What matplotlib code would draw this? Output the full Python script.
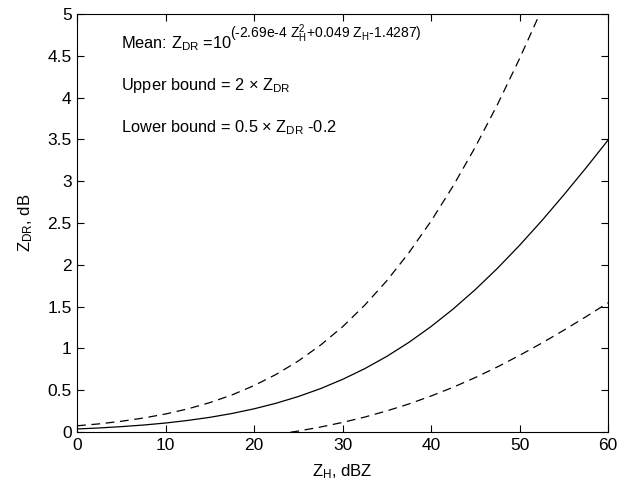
import numpy as np
import matplotlib
matplotlib.use('Agg')
import matplotlib.pyplot as plt

plt.rcParams['font.family'] = ['Liberation Sans', 'DejaVu Sans']
plt.rcParams['mathtext.fontset'] = 'custom'
plt.rcParams['mathtext.rm'] = 'Liberation Sans'
plt.rcParams['mathtext.it'] = 'Liberation Sans'
plt.rcParams['mathtext.bf'] = 'Liberation Sans:bold'

# values
zh = [0, 2.5, 5, 7.5, 10, 12.5, 15, 17.5, 20, 22.5, 25, 27.5, 30, 32.5,
      35, 37.5, 40, 42.5, 45, 47.5, 50, 52.5, 55, 57.5, 60]
zdr_mean = [0.037, 0.049, 0.065, 0.084, 0.108, 0.139, 0.176, 0.222, 0.278,
            0.345, 0.425, 0.519, 0.630, 0.758, 0.905, 1.073, 1.262, 1.472,
            1.704, 1.958, 2.233, 2.526, 2.836, 3.158, 3.491]
zdr_upper = [0.075, 0.098, 0.129, 0.168, 0.216, 0.277, 0.352, 0.444, 0.556,
             0.690, 0.850, 1.039, 1.259, 1.517, 1.810, 2.145, 2.523, 2.944,
             3.409, 3.916, 4.466, 5.053, 5.671, 6.316, 6.982]
zh_low = [22.5, 25, 27.5, 30, 32.5, 35, 37.5, 40, 42.5, 45, 47.5, 50, 52.5,
          55, 57.5, 60]
zdr_lower = [-0.028, 0.012, 0.060, 0.115, 0.179, 0.253, 0.336, 0.431, 0.536,
             0.652, 0.779, 0.917, 1.063, 1.218, 1.379, 1.546]

fig = plt.figure(figsize=(6.32, 4.86), dpi=100)
ax = fig.add_axes([0.122, 0.111, 0.840, 0.860])

ax.plot(zh, zdr_mean, '-', color='black', lw=0.9)
ax.plot(zh, zdr_upper, '--', color='black', lw=0.9, dashes=(7, 4.5))
ax.plot(zh_low, zdr_lower, '--', color='black', lw=0.9, dashes=(7, 4.5))

ax.set_xlim(0, 60)
ax.set_ylim(0, 5)
ax.set_xticks(np.arange(0, 61, 10))
ax.set_yticks(np.arange(0, 5.01, 0.5))
ax.set_yticklabels(['0', '0.5', '1', '1.5', '2', '2.5', '3', '3.5', '4', '4.5', '5'])
ax.tick_params(direction='in', top=True, right=True, labelsize=12.5, length=5, width=0.8, pad=4)
for s in ax.spines.values():
    s.set_linewidth(0.8)

ax.set_xlabel(r'Z$_\mathrm{H}$, dBZ', fontsize=12, labelpad=7)
ax.set_ylabel(r'Z$_\mathrm{DR}$, dB', fontsize=12, labelpad=9)

fs = 11.8
t1 = ax.text(4.95, 4.59, r'Mean: Z$_\mathrm{DR}$ =10', fontsize=fs)
ax.annotate(r'(-2.69e-4 Z$_\mathrm{H}^2$+0.049 Z$_\mathrm{H}$-1.4287)',
            xy=(1, 4.59), xycoords=(t1, 'data'), xytext=(-2, 10),
            textcoords='offset pixels', fontsize=10, va='baseline')
ax.text(4.95, 4.09, r'Upper bound = 2 × Z$_\mathrm{DR}$', fontsize=fs)
ax.text(4.95, 3.59, r'Lower bound = 0.5 × Z$_\mathrm{DR}$ -0.2', fontsize=fs)

fig.savefig('out.png', dpi=100)
